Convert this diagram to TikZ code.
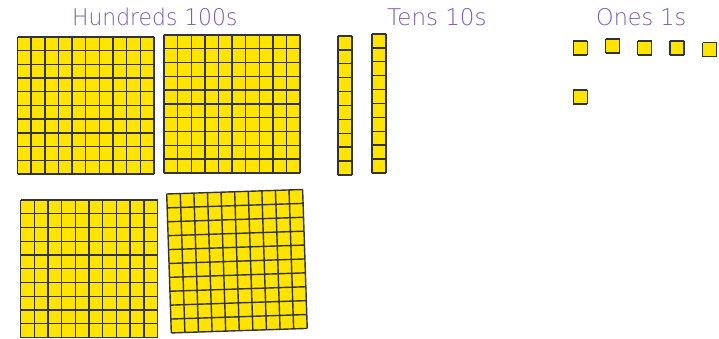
\documentclass[tikz,border=0pt]{standalone}
\usepackage{fontspec}
\newfontfamily\lblfont{DejaVu Sans ExtraLight}
\definecolor{cubeyellow}{RGB}{255,228,0}
\definecolor{lblpurple}{RGB}{125,88,175}
\tikzset{
  gridline/.style={draw=black!80, line width=1.4pt},
  lbl/.style={anchor=base west, inner sep=0pt, text=lblpurple, font=\lblfont\fontsize{23}{23}\selectfont},
}
\newcommand\blockgrid[6]{%
  \begin{scope}[shift={(#1,#2)}]
    \fill[cubeyellow] (0,0) rectangle (#3,#4);
    \foreach \k in {0,...,#5} \draw[gridline] ({#3*\k/#5},0) -- ({#3*\k/#5},#4);
    \foreach \k in {0,...,#6} \draw[gridline] (0,{#4*\k/#6}) -- (#3,{#4*\k/#6});
  \end{scope}}
\begin{document}
\begin{tikzpicture}[x=1pt,y=-1pt]
\useasboundingbox (0,0) rectangle (719,339);
% labels
\node[lbl, xscale=0.95] (hund) at (72,26) {Hundreds 100s};
\node[lbl] (tens) at (387,26) {Tens 10s};
\node[lbl, xscale=0.97] (ones) at (596,26) {Ones 1s};
% hundreds flats
\blockgrid{17.5}{37}{136.5}{137}{10}{10}
\blockgrid{164}{35}{136}{138}{10}{10}
\blockgrid{20.5}{200}{137}{137.5}{10}{10}
\begin{scope}[shift={(166.7,194)},rotate=1.9]
  \blockgrid{0}{0}{136}{139}{10}{10}
\end{scope}
% tens rods
\blockgrid{338}{36}{14}{139}{1}{10}
\blockgrid{372}{34}{14}{139}{1}{10}
% ones
\blockgrid{573.3}{41}{14}{14}{1}{1}
\blockgrid{605.7}{39}{14}{14}{1}{1}
\blockgrid{637.7}{41}{14}{14}{1}{1}
\blockgrid{670}{41}{14}{14}{1}{1}
\blockgrid{702.7}{42.7}{14}{14}{1}{1}
\blockgrid{573.3}{90}{14}{14}{1}{1}
\end{tikzpicture}
\end{document}
